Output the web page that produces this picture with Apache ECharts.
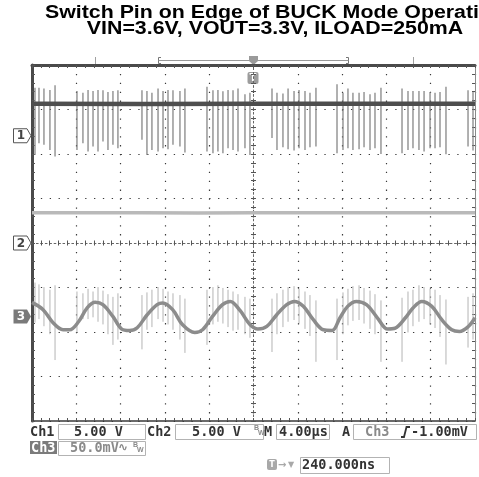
<!DOCTYPE html>
<html>
<head>
<meta charset="utf-8">
<script src="https://cdn.jsdelivr.net/npm/echarts@6/dist/echarts.min.js"></script>
<style>
  html, body { margin: 0; padding: 0; background: #fff; }
  #chart { width: 479px; height: 477px; }
</style>
</head>
<body>
<div id="chart"></div>
<script>
// ---- Acquisition data (time in µs, Ch1/Ch2 in V, Ch3 in mV) ----

// Ch1: switch node, flat level between switching bursts
const ch1BaseTime  = [-20, -10, 0, 10, 20];
const ch1BaseVolts = [3.60, 3.58, 3.61, 3.59, 3.60];

// Ch1 switching edges: time of each edge, overshoot peak and undershoot dip
const spikeTime = [
  -19.73, -19.37, -18.92, -18.38, -17.92,
  -15.94, -15.40, -14.94, -14.49, -14.04, -13.59, -13.14, -12.69, -12.24,
  -10.07, -9.62, -9.17, -8.62, -8.17, -7.72, -7.27, -6.64, -6.19,
  -4.20, -3.66, -3.21, -2.76, -2.30, -1.85, -1.40, -0.77, -0.32,
  1.67, 2.12, 2.66, 3.12, 3.66, 4.11, 4.65, 5.10, 5.64,
  7.54, 8.08, 8.53, 8.98, 9.53, 9.98, 10.52, 10.97, 11.51,
  13.41, 13.95, 14.40, 14.94, 15.40, 15.94, 16.39, 16.84, 17.38,
  19.37, 19.82
];
const ch1SpikeHigh = [
  5.40, 5.40, 5.30, 5.14, 5.67,
  5.03, 4.84, 5.14, 5.03, 5.14, 5.10, 4.91, 5.03, 5.10,
  5.10, 5.03, 4.84, 5.30, 5.03, 5.14, 5.10, 5.03, 5.30,
  5.52, 5.10, 5.14, 4.99, 5.14, 5.10, 5.30, 4.65, 4.84,
  5.30, 4.84, 4.76, 5.30, 5.03, 5.14, 5.03, 4.84, 5.40,
  5.78, 4.84, 5.30, 4.84, 4.84, 4.91, 4.65, 4.84, 5.40,
  5.30, 5.03, 5.03, 5.03, 5.03, 4.91, 4.84, 4.91, 5.52,
  5.10, 4.91
];
const ch1SpikeLow = [
  -2.15, -0.83, -1.00, -1.59, -2.34,
  -1.59, -0.83, -1.78, -1.21, -1.78, -0.64, -1.59, -1.00, -1.40,
  -0.45, -2.15, -1.59, -1.78, -1.40, -1.51, -1.00, -1.21, -1.89,
  -1.78, -1.97, -1.78, -1.97, -1.40, -1.59, -1.78, -1.40, -2.15,
  -0.26, -1.59, -1.29, -1.51, -1.66, -1.40, -1.59, -1.29, -1.21,
  -1.97, -1.59, -1.40, -1.59, -1.51, -1.29, -1.59, -1.40, -2.04,
  -1.97, -1.59, -1.40, -1.59, -1.78, -1.40, -1.40, -1.29, -2.08,
  -1.21, -1.66
];

// Ch2: output voltage
const ch2Time  = [-20, -15, -10, -5, 0, 5, 10, 15, 20];
const ch2Volts = [3.41, 3.39, 3.40, 3.38, 3.41, 3.39, 3.40, 3.39, 3.40];

// Ch3: output ripple (AC coupled)
const ch3Time = [
  -20.0, -19.0, -18.1, -17.2, -16.6, -15.8, -15.0, -14.3, -13.6, -12.7,
  -11.9, -11.2, -10.5, -9.6, -8.7, -8.2, -7.3, -6.4, -5.3, -4.6,
  -3.7, -2.8, -2.1, -1.2, -0.3, 0.4, 1.2, 2.1, 3.0, 3.7,
  4.5, 5.4, 6.3, 7.1, 7.8, 8.5, 9.3, 10.2, 11.2, 12.1,
  12.8, 13.7, 14.4, 15.2, 16.1, 17.0, 17.9, 18.6, 19.4, 20.0
];
const ch3Millivolts = [
  15.8, 7.6, -7.1, -15.0, -15.0, -6.0, 9.8, 15.8, 13.2, 0.0,
  -14.2, -15.8, -12.7, 1.9, 13.2, 15.1, 7.6, -9.4, -18.0, -15.0,
  0.0, 13.2, 16.9, 6.4, -9.4, -14.2, -11.3, 1.9, 13.2, 16.9,
  11.3, -3.7, -15.0, -15.8, -1.8, 11.3, 16.9, 13.2, -1.8, -14.2,
  -13.1, -1.8, 9.5, 16.9, 11.3, -3.7, -15.0, -16.9, -11.3, -1.5
];
// Ch3 switching noise at the same edges as Ch1
const ch3SpikeHigh = [
  38, 36, 33, 30, 35,
  28, 26, 31, 28, 33, 29, 25, 22, 26,
  24, 27, 30, 33, 31, 28, 26, 24, 20,
  30, 33, 35, 32, 30, 28, 25, 22, 20,
  20, 26, 30, 33, 34, 31, 28, 24, 18,
  20, 27, 31, 34, 35, 32, 29, 25, 18,
  21, 28, 30, 35, 33, 31, 30, 24, 19,
  22, 26
];
const ch3SpikeLow = [
  -7, -3, -11, -20, -49,
  -18, -3, -3, -1, -6, -9, -20, -32, -26,
  -37, -15, -12, -3, -6, -9, -15, -26, -41,
  -32, -9, -6, -8, -12, -16, -15, -20, -24,
  -40, -20, -12, -6, -4, -8, -14, -22, -51,
  -49, -20, -10, -5, -4, -8, -14, -20, -51,
  -51, -18, -11, -6, -3, -9, -13, -23, -54,
  -35, -26
];

// ---- Scope settings ----
const TIME_PER_DIV = 4;           // µs/div
const H_DIVS = 10, V_DIVS = 8;
const channels = {
  ch1: { scale: 5,  position: 2.41 },   // V/div, ground offset in divisions
  ch2: { scale: 5,  position: 0.0 },
  ch3: { scale: 50, position: -1.65 }   // mV/div
};

const tMin = -TIME_PER_DIV * H_DIVS / 2;
const tMax =  TIME_PER_DIV * H_DIVS / 2;

function channelAxis(ch) {
  return {
    type: 'value', show: false,
    min: (-V_DIVS / 2 - ch.position) * ch.scale,
    max: ( V_DIVS / 2 - ch.position) * ch.scale
  };
}
const zip = (a, b) => a.map((v, i) => [v, b[i]]);
const zip3 = (a, b, c) => a.map((v, i) => [v, b[i], c[i]]);

function spikeRenderer(color, width) {
  return function (params, api) {
    const p1 = api.coord([api.value(0), api.value(1)]);
    const p2 = api.coord([api.value(0), api.value(2)]);
    return {
      type: 'line',
      shape: { x1: p1[0], y1: p1[1], x2: p2[0], y2: p2[1] },
      style: { stroke: color, lineWidth: width }
    };
  };
}

const noLabel = { show: false };
const edgeTick  = { show: true, inside: true, length: 3, lineStyle: { color: '#555', width: 1 } };
const edgeMinor = { show: true, splitNumber: 5, length: 3, lineStyle: { color: '#555', width: 1 } };

function centerX(inside) {
  return {
    type: 'value', min: tMin, max: tMax, interval: TIME_PER_DIV, position: 'bottom',
    axisLine: { show: true, onZero: true, onZeroAxisIndex: 0, lineStyle: { color: '#666', width: 1, type: [1.5, 2.95] } },
    axisTick: { show: true, inside: inside, length: 2.5, lineStyle: { color: '#555', width: 1 } },
    minorTick: { show: true, splitNumber: 5, length: 2.5, lineStyle: { color: '#555', width: 1 } },
    axisLabel: noLabel, splitLine: { show: false }
  };
}
function centerY(inside) {
  return {
    type: 'value', min: -V_DIVS / 2, max: V_DIVS / 2, interval: 1, position: 'left',
    axisLine: { show: true, onZero: true, onZeroAxisIndex: 0, lineStyle: { color: '#666', width: 1, type: [1.5, 2.95] } },
    axisTick: { show: true, inside: inside, length: 2.5, lineStyle: { color: '#555', width: 1 } },
    minorTick: { show: true, splitNumber: 5, length: 2.5, lineStyle: { color: '#555', width: 1 } },
    axisLabel: noLabel, splitLine: { show: false }
  };
}

const chart = echarts.init(document.getElementById('chart'), null, { renderer: 'canvas' });

const option = {
  animation: false,
  backgroundColor: '#ffffff',
  grid: { left: 32, top: 65, width: 443, height: 356, containLabel: false },
  xAxis: [
    { // bottom edge + vertical graticule
      type: 'value', min: tMin, max: tMax, interval: TIME_PER_DIV, position: 'bottom',
      axisLine: { show: true, onZero: false, lineStyle: { color: '#3a3a3a', width: 1.5 } },
      axisTick: edgeTick, minorTick: edgeMinor, axisLabel: noLabel,
      splitLine: { show: true, lineStyle: { color: '#3a3a3a', width: 1.2, type: [1.3, 7.6] } }
    },
    { // top edge
      type: 'value', min: tMin, max: tMax, interval: TIME_PER_DIV, position: 'top',
      axisLine: { show: true, onZero: false, lineStyle: { color: '#4a4a4a', width: 3 } },
      axisTick: edgeTick, minorTick: edgeMinor, axisLabel: noLabel, splitLine: { show: false }
    },
    centerX(true),
    centerX(false)
  ],
  yAxis: [
    { // left edge + horizontal graticule
      type: 'value', min: -V_DIVS / 2, max: V_DIVS / 2, interval: 1, position: 'left',
      axisLine: { show: true, onZero: false, lineStyle: { color: '#4a4a4a', width: 3 } },
      axisTick: edgeTick, minorTick: edgeMinor, axisLabel: noLabel,
      splitLine: { show: true, lineStyle: { color: '#3a3a3a', width: 1.2, type: [1.3, 7.56] } }
    },
    { // right edge
      type: 'value', min: -V_DIVS / 2, max: V_DIVS / 2, interval: 1, position: 'right',
      axisLine: { show: true, onZero: false, lineStyle: { color: '#8a8a8a', width: 1 } },
      axisTick: edgeTick, minorTick: edgeMinor, axisLabel: noLabel, splitLine: { show: false }
    },
    centerY(true),
    centerY(false),
    channelAxis(channels.ch1),   // 4
    channelAxis(channels.ch2),   // 5
    channelAxis(channels.ch3)    // 6
  ],
  series: [
    {
      name: 'Ch2', type: 'line', xAxisIndex: 0, yAxisIndex: 5, silent: true,
      data: zip(ch2Time, ch2Volts), showSymbol: false,
      lineStyle: { color: '#b9b9b9', width: 3.5 }
    },
    {
      name: 'Ch3 edges', type: 'custom', xAxisIndex: 0, yAxisIndex: 6, silent: true,
      data: zip3(spikeTime, ch3SpikeHigh, ch3SpikeLow),
      encode: { x: 0, y: [1, 2] },
      renderItem: spikeRenderer('#b4b4b4', 1)
    },
    {
      name: 'Ch3', type: 'line', xAxisIndex: 0, yAxisIndex: 6, silent: true,
      data: zip(ch3Time, ch3Millivolts), showSymbol: false, smooth: 0.35,
      lineStyle: { color: '#8c8c8c', width: 3.5 }
    },
    {
      name: 'Ch1 edges', type: 'custom', xAxisIndex: 0, yAxisIndex: 4, silent: true,
      data: zip3(spikeTime, ch1SpikeHigh, ch1SpikeLow),
      encode: { x: 0, y: [1, 2] },
      renderItem: spikeRenderer('#7c7c7c', 1.2)
    },
    {
      name: 'Ch1', type: 'line', xAxisIndex: 0, yAxisIndex: 4, silent: true,
      data: zip(ch1BaseTime, ch1BaseVolts), showSymbol: false,
      lineStyle: { color: '#4e4e4e', width: 4.5 }
    }
  ]
};
chart.setOption(option);

// ---- Screen annotations ----
const MONO = '"DejaVu Sans Mono", monospace';
const SANS = '"Liberation Sans", Arial, sans-serif';
const DARK = '#333333', GREY = '#8a8a8a', BOX = '#b3b3b3';

function txt(x, y, text, color, font, align) {
  return {
    type: 'text', x: x, y: y, silent: true,
    style: { text: text, fill: color, font: font, textAlign: align || 'left', textVerticalAlign: 'middle' }
  };
}
function outline(x1, y1, x2, y2, color) {
  return {
    type: 'rect', silent: true,
    shape: { x: x1 + 0.5, y: y1 + 0.5, width: x2 - x1, height: y2 - y1 },
    style: { fill: 'none', stroke: color || BOX, lineWidth: 1 }
  };
}
function filled(x1, y1, x2, y2, color, r) {
  return {
    type: 'rect', silent: true,
    shape: { x: x1, y: y1, width: x2 - x1, height: y2 - y1, r: r || 0 },
    style: { fill: color }
  };
}
function channelMarker(label, y, solid) {
  return [
    {
      type: 'polygon', silent: true,
      shape: { points: [[13.5, y - 7], [27, y - 7], [31, y], [27, y + 7], [13.5, y + 7]] },
      style: solid ? { fill: '#7a7a7a' } : { fill: '#fff', stroke: '#555', lineWidth: 1 }
    },
    txt(21, y + 0.5, label, solid ? '#fff' : '#444', 'bold 12px "DejaVu Sans", sans-serif', 'center')
  ];
}

const xMid = chart.convertToPixel({ xAxisIndex: 0 }, 0);
const yCh1 = chart.convertToPixel({ yAxisIndex: 4 }, 0);
const yCh2 = chart.convertToPixel({ yAxisIndex: 5 }, 0);
const yCh3 = chart.convertToPixel({ yAxisIndex: 6 }, 0);

const statusFont = 'bold 13.5px ' + MONO;
const tinyFont = 'bold 7px ' + SANS;
const titleFont = 'bold 17.5px ' + SANS;

const graphics = [
  // title
  Object.assign(txt(275, 13.5, 'Switch Pin on Edge of BUCK Mode Operation', '#000', titleFont, 'center'), { scaleX: 1.22 }),
  Object.assign(txt(275, 29.5, 'VIN=3.6V, VOUT=3.3V, ILOAD=250mA', '#000', titleFont, 'center'), { scaleX: 1.22 }),

  // record-length ruler above the graticule
  { type: 'line', silent: true, shape: { x1: 95.5, y1: 57, x2: 95.5, y2: 64 }, style: { stroke: '#a0a0a0', lineWidth: 1 } },
  { type: 'line', silent: true, shape: { x1: 413.5, y1: 57, x2: 413.5, y2: 64 }, style: { stroke: '#a0a0a0', lineWidth: 1 } },
  { type: 'polyline', silent: true, shape: { points: [[161, 57.5], [158.5, 57.5], [158.5, 63.5], [161, 63.5]] }, style: { stroke: '#777', lineWidth: 1, fill: 'none' } },
  { type: 'polyline', silent: true, shape: { points: [[346, 57.5], [348.5, 57.5], [348.5, 63.5], [346, 63.5]] }, style: { stroke: '#777', lineWidth: 1, fill: 'none' } },
  { type: 'line', silent: true, shape: { x1: 158.5, y1: 60.5, x2: 348.5, y2: 60.5 }, style: { stroke: '#999', lineWidth: 1 } },
  {
    type: 'polygon', silent: true,
    shape: { points: [[xMid - 4.5, 56], [xMid + 4.5, 56], [xMid + 4.5, 61], [xMid, 65], [xMid - 4.5, 61]] },
    style: { fill: '#9a9a9a' }
  },

  // trigger position marker
  filled(xMid - 6, 72, xMid + 5, 84, '#9c9c9c', 2),
  txt(xMid - 0.5, 78.5, 'T', '#fff', 'bold 10px "DejaVu Sans", sans-serif', 'center'),

  // channel ground markers
  ...channelMarker('1', yCh1, false),
  ...channelMarker('2', yCh2, false),
  ...channelMarker('3', yCh3, true),

  // status row 1
  txt(30, 432, 'Ch1', DARK, statusFont),
  outline(58, 424, 145, 439),
  txt(74, 432, '5.00 V', DARK, statusFont),
  txt(147, 432, 'Ch2', DARK, statusFont),
  outline(175, 424, 263, 439),
  txt(192, 432, '5.00 V', DARK, statusFont),
  txt(254, 428.5, 'B', GREY, tinyFont),
  txt(258, 433.5, 'W', GREY, tinyFont),
  txt(264, 432, 'M', DARK, statusFont),
  outline(276, 424, 329, 439),
  txt(279, 432, '4.00µs', DARK, statusFont),
  txt(342, 432, 'A', DARK, statusFont),
  outline(353, 424, 476, 439),
  txt(365, 432, 'Ch3', GREY, statusFont),
  { type: 'polyline', silent: true, shape: { points: [[401, 437], [404, 437], [406.5, 427], [410, 427]] }, style: { stroke: DARK, lineWidth: 1.8, fill: 'none' } },
  txt(411, 432, '-1.00mV', DARK, statusFont),

  // status row 2
  filled(30, 441, 57, 454, '#7b7b7b'),
  txt(31, 448, 'Ch3', '#fff', statusFont),
  outline(58, 441, 145, 455),
  txt(70, 448, '50.0mV', GREY, statusFont),
  txt(118, 448, '\u223F', GREY, 'bold 12px "DejaVu Sans", sans-serif'),
  txt(133, 445, 'B', GREY, tinyFont),
  txt(137, 450, 'W', GREY, tinyFont),

  // status row 3
  filled(267, 459, 277, 470, '#a8a8a8', 2),
  txt(272, 465, 'T', '#fff', 'bold 8px "DejaVu Sans", sans-serif', 'center'),
  txt(278, 465, '\u2192', '#a8a8a8', 'bold 10px "DejaVu Sans", sans-serif'),
  txt(288, 465, '\u25BC', '#a8a8a8', 'bold 8px "DejaVu Sans", sans-serif'),
  outline(300, 457, 389, 473),
  txt(302, 465, '240.000ns', DARK, statusFont)
];

chart.setOption({ graphic: graphics });
</script>
</body>
</html>
